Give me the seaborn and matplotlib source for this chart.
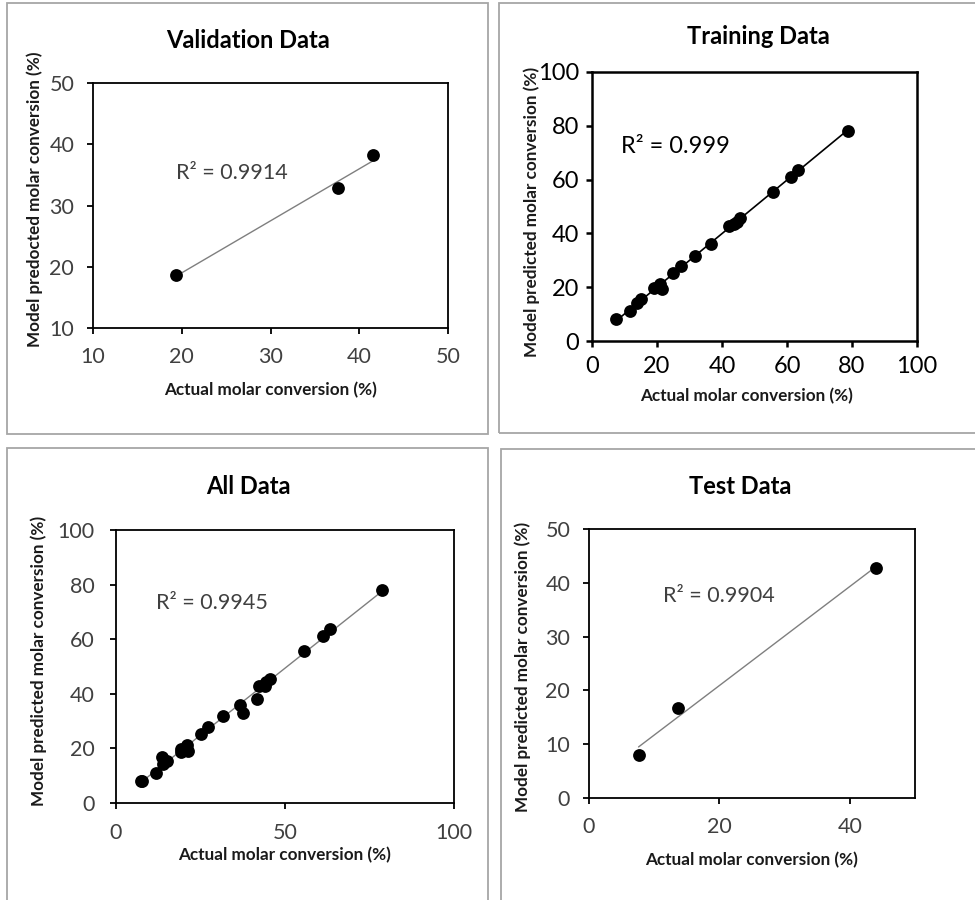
import seaborn as sns
import matplotlib.pyplot as plt
import pandas as pd
import numpy as np
from matplotlib.patches import Rectangle

# values
val_actual = [19.3, 37.6, 41.6]
val_pred = [18.6, 32.9, 38.2]

train_actual = [7.3, 11.7, 13.9, 15.1, 19.1, 20.9, 21.4, 25.0, 27.3, 31.7,
                36.6, 42.3, 43.8, 44.5, 45.5, 55.6, 61.2, 63.3, 78.7]
train_pred = [8.1, 11.0, 14.2, 15.5, 19.6, 21.1, 19.2, 25.2, 28.0, 31.7,
              35.9, 42.7, 43.4, 44.4, 45.6, 55.5, 61.1, 63.6, 78.1]

test_actual = [7.6, 13.6, 44.0]
test_pred = [8.0, 16.8, 42.7]

r2_labels = ['R² = 0.9914', 'R² = 0.999', 'R² = 0.9945', 'R² = 0.9904']
titles = ['Validation Data', 'Training Data', 'All Data', 'Test Data']
xlabel = 'Actual molar conversion (%)'
ylabels = ['Model predocted molar conversion (%)',
           'Model predicted molar conversion (%)',
           'Model predicted molar conversion (%)',
           'Model predicted molar conversion (%)']

val_df = pd.DataFrame({'actual': val_actual, 'pred': val_pred})
train_df = pd.DataFrame({'actual': train_actual, 'pred': train_pred})
test_df = pd.DataFrame({'actual': test_actual, 'pred': test_pred})
all_df = pd.concat([train_df, val_df, test_df], ignore_index=True)

sns.set_style('ticks')
plt.rcParams['font.family'] = ['Lato', 'DejaVu Sans']

W, H = 975, 900
fig = plt.figure(figsize=(9.75, 9.0), dpi=100)


def px_rect(l, t, r, b):
    return [l / W, 1 - b / H, (r - l) / W, (b - t) / H]


# grey frames round each chart
for l, t, r, b in [(7, 3, 488, 434), (499, 3, 990, 433),
                   (7, 448, 488, 910), (501, 449, 990, 910)]:
    fig.patches.append(Rectangle((l / W, 1 - b / H), (r - l) / W, (b - t) / H,
                                 transform=fig.transFigure, fill=False,
                                 edgecolor='#a6a6a6', linewidth=1.3))

panels = [
    dict(df=val_df, rect=(93, 83, 448, 328), title_xy=(248, 40),
         xlim=(10, 50), xticks=[10, 20, 30, 40, 50],
         ylim=(10, 50), yticks=[10, 20, 30, 40, 50],
         r2_xy=(19.3, 35.3), fs_tick=15.5, fs_r2=15.5, fs_lab=12.3,
         tick_col='#404040', line_col='#7f7f7f', lw=1.0, spine=1.3,
         xpad=9, ypad=9, xl=(0.5, -0.255), yl=(-0.165, 0.527)),
    dict(df=train_df, rect=(592, 72, 917, 341), title_xy=(758, 37),
         xlim=(0, 100), xticks=[0, 20, 40, 60, 80, 100],
         ylim=(0, 100), yticks=[0, 20, 40, 60, 80, 100],
         r2_xy=(8.8, 72.2), fs_tick=17, fs_r2=17, fs_lab=12.3,
         tick_col='black', line_col='black', lw=1.2, spine=1.8,
         xpad=6, ypad=5, xl=(0.476, -0.205), yl=(-0.186, 0.481)),
    dict(df=all_df, rect=(116, 530, 454, 803), title_xy=(248, 487),
         xlim=(0, 100), xticks=[0, 50, 100],
         ylim=(0, 100), yticks=[0, 20, 40, 60, 80, 100],
         r2_xy=(11.9, 73.1), fs_tick=15.5, fs_r2=15.5, fs_lab=12.3,
         tick_col='#404040', line_col='#7f7f7f', lw=1.0, spine=1.3,
         xpad=10, ypad=11, xl=(0.5, -0.192), yl=(-0.229, 0.52)),
    dict(df=test_df, rect=(589, 529, 915, 798), title_xy=(740, 487),
         xlim=(0, 50), xticks=[0, 20, 40],
         ylim=(0, 50), yticks=[0, 10, 20, 30, 40, 50],
         r2_xy=(11.4, 37.5), fs_tick=15.5, fs_r2=15.5, fs_lab=12.3,
         tick_col='#404040', line_col='#7f7f7f', lw=1.0, spine=1.3,
         xpad=9, ypad=9, xl=(0.499, -0.232), yl=(-0.203, 0.489)),
]

for i, p in enumerate(panels):
    ax = fig.add_axes(px_rect(*p['rect']))
    sns.regplot(data=p['df'], x='actual', y='pred', ci=None, ax=ax,
                color='black',
                scatter_kws=dict(s=85, color='black', alpha=1, linewidths=0, zorder=3),
                line_kws=dict(color=p['line_col'], linewidth=p['lw'], zorder=2))
    ax.set_xlim(*p['xlim'])
    ax.set_ylim(*p['ylim'])
    ax.set_xticks(p['xticks'])
    ax.set_yticks(p['yticks'])
    for s in ax.spines.values():
        s.set_visible(True)
        s.set_linewidth(p['spine'])
        s.set_color('black')
    ax.tick_params(axis='both', direction='out', length=4.5, width=p['spine'],
                   color='black', labelsize=p['fs_tick'], labelcolor=p['tick_col'])
    ax.tick_params(axis='x', pad=p['xpad'])
    ax.tick_params(axis='y', pad=p['ypad'])
    ax.set_xlabel(xlabel, fontsize=p['fs_lab'], fontweight='bold', color='#1a1a1a')
    ax.set_ylabel(ylabels[i], fontsize=p['fs_lab'], fontweight='bold', color='#1a1a1a')
    ax.xaxis.label.set_va('center')
    ax.yaxis.label.set_va('center')
    ax.xaxis.set_label_coords(*p['xl'])
    ax.yaxis.set_label_coords(*p['yl'])
    ax.text(p['r2_xy'][0], p['r2_xy'][1], r2_labels[i], fontsize=p['fs_r2'],
            color=p['tick_col'], ha='left', va='center')
    fig.text(p['title_xy'][0] / W, 1 - p['title_xy'][1] / H, titles[i],
             fontsize=17, fontweight='bold', color='black',
             ha='center', va='center')

plt.savefig('out.png', dpi=100, facecolor='white')
